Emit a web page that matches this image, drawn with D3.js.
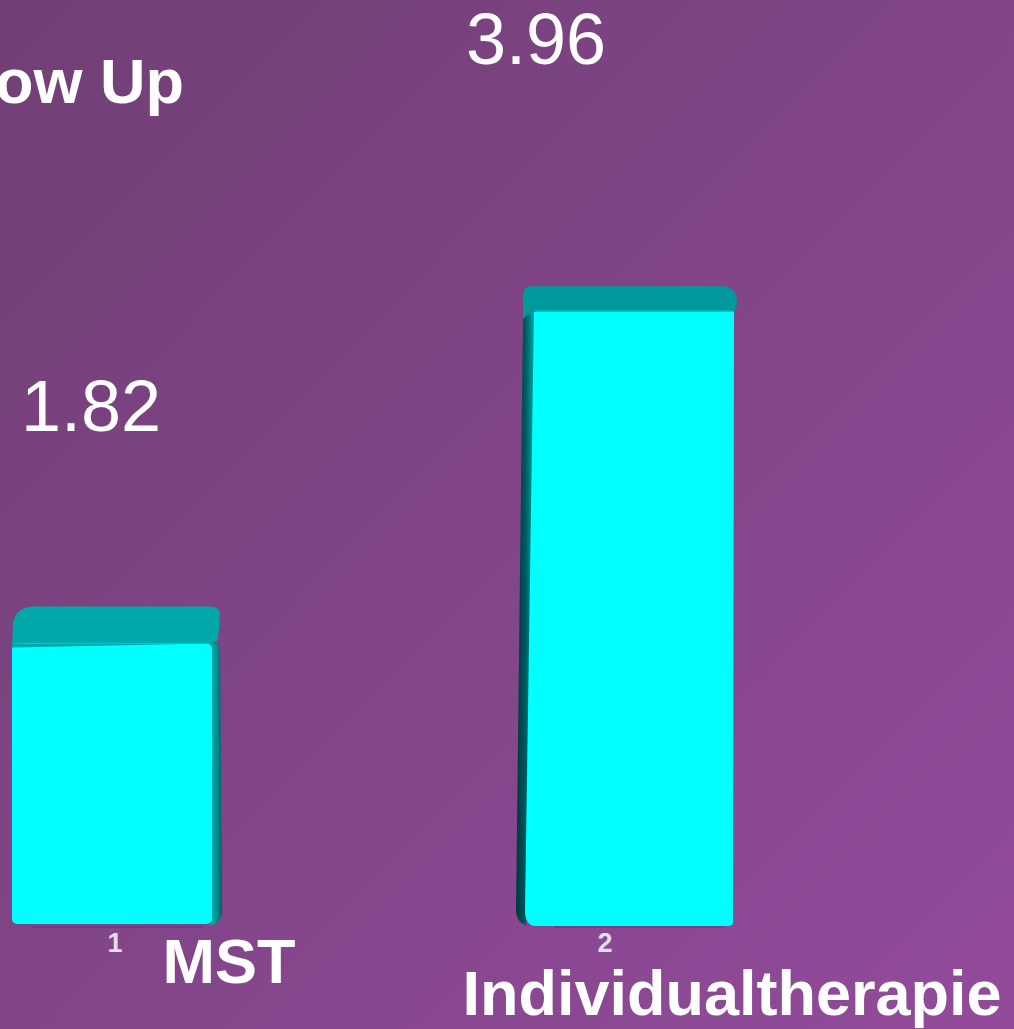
<!DOCTYPE html>
<html><head><meta charset="utf-8">
<script src="https://cdn.jsdelivr.net/npm/d3@7"></script>
<style>html,body{margin:0;padding:0;overflow:hidden;background:#7e4485}</style>
</head><body>
<script>
const categories = ["MST", "Individualtherapie"];
const values = [1.82, 3.96];
const valueLabels = ["1.82", "3.96"];
const tickLabels = ["1", "2"];
const title = "Follow Up";

const W = 1014, H = 1029;
const svg = d3.select("body").append("svg").attr("width", W).attr("height", H);
const defs = svg.append("defs");
const bg = defs.append("linearGradient").attr("id","bg").attr("x1","0").attr("y1","0").attr("x2","1").attr("y2","1");
bg.append("stop").attr("offset","0").attr("stop-color","#713f75");
bg.append("stop").attr("offset","1").attr("stop-color","#924b9b");
svg.append("rect").attr("width",W).attr("height",H).attr("fill","url(#bg)");

const sideR = defs.append("linearGradient").attr("id","sideR").attr("x1","0").attr("x2","1");
sideR.append("stop").attr("offset","0").attr("stop-color","#00c4c4");
sideR.append("stop").attr("offset","0.7").attr("stop-color","#008a8c");
sideR.append("stop").attr("offset","1").attr("stop-color","#005860");
const sideL = defs.append("linearGradient").attr("id","sideL").attr("x1","0").attr("x2","1");
sideL.append("stop").attr("offset","0").attr("stop-color","#00363c");
sideL.append("stop").attr("offset","0.5").attr("stop-color","#005a5e");
sideL.append("stop").attr("offset","1").attr("stop-color","#00b0b0");

const x = d3.scalePoint().domain(categories).range([112, 634]);
const y = d3.scaleLinear().domain([0, 4]).range([926, 305]);
const barW = 200, sideW = 10, vanishX = 366;

const data = categories.map((c,i)=>({c, i, v: values[i], lab: valueLabels[i], tick: tickLabels[i]}));

const font = "'Liberation Sans', Arial, sans-serif";
const g = svg.append("g");
data.forEach(d => {
  const cx = x(d.c), yt = y(d.v), y0 = y(0);
  const xl = cx - barW/2, xr = cx + barW/2;
  const depth = (yt + 381) * 0.036;
  const dx = (vanishX - cx) * depth / 670;
  const bar = g.append("g");
  const r = 9;
  let capBL, capTL, capTR, capBR;
  if (dx > 0) {
    bar.append("path").attr("d",
      `M${xr-1},${yt} L${xr+sideW-2},${yt} L${xr+sideW},${y0-14} Q${xr+sideW-1},${y0-2} ${xr-4},${y0} L${xr-1},${y0} Z`)
      .attr("fill","url(#sideR)");
    bar.append("rect").attr("x", xl).attr("y", yt).attr("width", barW).attr("height", y0 - yt - 2)
      .attr("rx", 5).attr("fill", "#00ffff");
    capBL = [xl, yt + 4]; capTL = [xl + dx, yt - depth]; capTR = [xr + sideW - 3, yt - depth]; capBR = [xr + sideW - 2, yt];
    bar.append("path").attr("d",
      `M${capBL[0]},${capBL[1]} L${capBL[0]+1},${yt-depth*0.55} Q${capBL[0]+4},${capTL[1]} ${capTL[0]+r},${capTL[1]} L${capTR[0]-r},${capTR[1]} Q${capTR[0]+1},${capTR[1]} ${capTR[0]+1},${capTR[1]+r} L${capBR[0]-2},${capBR[1]-4} Q${capBR[0]-5},${capBR[1]} ${capBR[0]-12},${capBR[1]} Z`)
      .attr("fill", "#00a8aa");
  } else {
    bar.append("path").attr("d",
      `M${xl+1},${yt} L${xl-sideW-1},${yt} L${xl-sideW-8},${y0-14} Q${xl-sideW-6},${y0} ${xl-2},${y0} L${xl-8},${y0} Z`)
      .attr("fill","url(#sideL)");
    bar.append("path").attr("d",
      `M${xl},${yt} L${xr},${yt} L${xr-1},${y0-3} Q${xr-2},${y0} ${xr-6},${y0} L${xl+2},${y0} Q${xl-8},${y0} ${xl-9},${y0-14} Z`)
      .attr("fill", "#00ffff");
    capBL = [xl - sideW - 1, yt]; capTL = [xl - sideW - 1, yt - depth]; capTR = [xr + 3, yt - depth]; capBR = [xr + 1, yt];
    bar.append("path").attr("d",
      `M${capBL[0]},${capBL[1]+8} L${capTL[0]},${capTL[1]+r} Q${capTL[0]},${capTL[1]} ${capTL[0]+r},${capTL[1]} L${capTR[0]-r-6},${capTR[1]} Q${capTR[0]},${capTR[1]} ${capTR[0]},${capTR[1]+r+8} L${capBR[0]},${capBR[1]} L${xl+4},${yt} Q${xl-4},${yt} ${capBL[0]},${capBL[1]+8} Z`)
      .attr("fill", "#009a9c");
  }
  bar.append("line").attr("x1", xl+2).attr("x2", xr-2).attr("y1", yt).attr("y2", yt)
    .attr("stroke","#00c8c8").attr("stroke-width",1.2);
  bar.append("line").attr("x1", xl+20).attr("x2", xr-10).attr("y1", y0+1).attr("y2", y0+1)
    .attr("stroke","#3c2a55").attr("stroke-width",1.2).attr("opacity",0.5);

  svg.append("text").attr("x", cx*0.8525 - 4.5).attr("y", yt*1.105 - 280)
    .attr("text-anchor","middle").attr("font-family",font)
    .attr("font-size",72).attr("fill","#ffffff").text(d.lab);
  svg.append("text").attr("x", cx*0.9387 + 9.9).attr("y", 952)
    .attr("text-anchor","middle").attr("font-family",font)
    .attr("font-size",27).attr("font-weight","bold").attr("fill","#e6dcea").text(d.tick);
  svg.append("text").attr("x", cx*0.9636 + 121.1).attr("y", d.i % 2 ? 1015 : 983)
    .attr("text-anchor","middle").attr("font-family",font)
    .attr("font-size",63).attr("font-weight","bold").attr("fill","#ffffff").text(d.c);
});

svg.append("text").attr("x", 184).attr("y", 103).attr("text-anchor","end")
  .attr("font-family",font).attr("font-size",63)
  .attr("font-weight","bold").attr("fill","#ffffff").text(title);
</script>
</body></html>
